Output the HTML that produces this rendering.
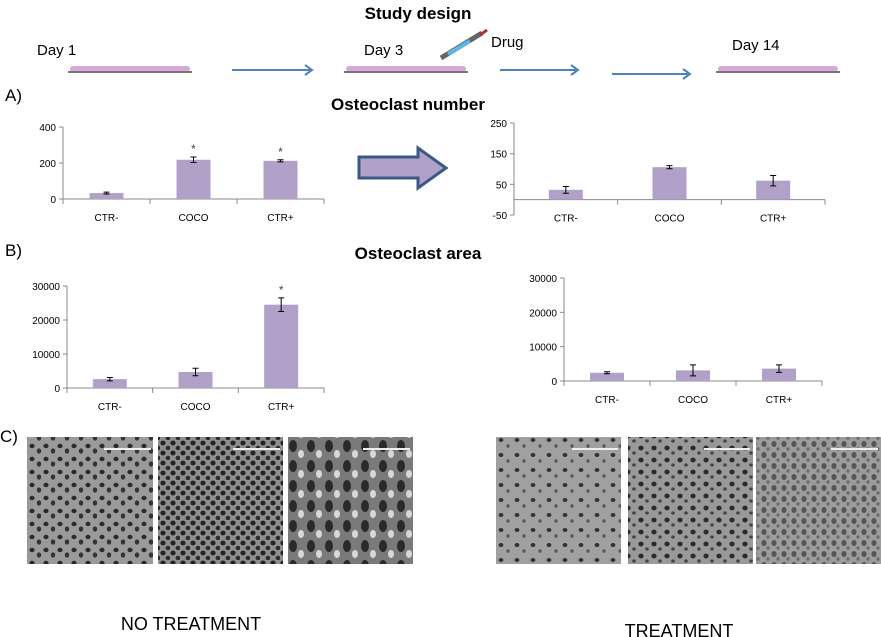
<!DOCTYPE html>
<html><head><meta charset="utf-8"><style>
body{margin:0;background:#fff;width:881px;height:637px;overflow:hidden;font-family:"Liberation Sans",sans-serif}
svg{display:block}
</style></head><body>
<svg id="fig" width="881" height="637" xmlns="http://www.w3.org/2000/svg">
<defs>
<pattern id="cells1" width="14" height="13" patternUnits="userSpaceOnUse"><rect width="14" height="13" fill="#9a9a9a"/><ellipse cx="4" cy="4" rx="2.6" ry="2.2" fill="#2a2a2a"/><ellipse cx="11" cy="9" rx="2.2" ry="2.6" fill="#333"/></pattern>
<pattern id="cells2" width="10" height="10" patternUnits="userSpaceOnUse"><rect width="10" height="10" fill="#8e8e8e"/><ellipse cx="3" cy="3" rx="2.6" ry="2.4" fill="#222"/><ellipse cx="8" cy="8" rx="2.4" ry="2.2" fill="#2a2a2a"/></pattern>
<pattern id="cells3" width="18" height="20" patternUnits="userSpaceOnUse"><rect width="18" height="20" fill="#7a7a7a"/><ellipse cx="5" cy="6" rx="4" ry="6" fill="#2a2a2a"/><ellipse cx="13" cy="14" rx="3" ry="4" fill="#d8d8d8"/></pattern>
<pattern id="cells4" width="16" height="15" patternUnits="userSpaceOnUse"><rect width="16" height="15" fill="#a0a0a0"/><ellipse cx="5" cy="5" rx="2.4" ry="2" fill="#333"/><ellipse cx="12" cy="11" rx="1.6" ry="1.8" fill="#555"/></pattern>
<pattern id="cells5" width="13" height="12" patternUnits="userSpaceOnUse"><rect width="13" height="12" fill="#999"/><ellipse cx="4" cy="4" rx="2.6" ry="2.4" fill="#2a2a2a"/><ellipse cx="10" cy="9" rx="1.8" ry="1.6" fill="#444"/></pattern>
<pattern id="cells6" width="10" height="11" patternUnits="userSpaceOnUse"><rect width="10" height="11" fill="#9c9c9c"/><ellipse cx="4" cy="4" rx="2.6" ry="3" fill="#555"/><ellipse cx="8" cy="9" rx="1.6" ry="1.8" fill="#6a6a6a"/></pattern>
</defs>
<text x="418" y="19" text-anchor="middle" font-size="17" font-weight="bold">Study design</text>
<g font-size="15">
<text x="37" y="55">Day 1</text>
<text x="364" y="55">Day 3</text>
<text x="491" y="47">Drug</text>
<text x="732" y="50">Day 14</text>
<g><rect x="70" y="66" width="120" height="6" rx="3" fill="#d9a8d8"/><rect x="68" y="71" width="124" height="2" fill="#777"/></g>
<g><rect x="346" y="66" width="120" height="6" rx="3" fill="#d9a8d8"/><rect x="344" y="71" width="124" height="2" fill="#777"/></g>
<g><rect x="718" y="66" width="120" height="6" rx="3" fill="#d9a8d8"/><rect x="716" y="71" width="124" height="2" fill="#777"/></g>
<g><line x1="441" y1="58" x2="482" y2="33" stroke="#666" stroke-width="5"/><line x1="448" y1="54" x2="470" y2="41" stroke="#5bb8e0" stroke-width="4"/><line x1="480" y1="35" x2="487" y2="30" stroke="#a33" stroke-width="3"/></g>
<g stroke="#4f81bd" stroke-width="2" fill="none">
<path d="M232 70H312M305 65l7 5-7 5"/>
<path d="M500 70H578M571 65l7 5-7 5"/>
<path d="M612 74H690M683 69l7 5-7 5"/>
</g>
</g>
<text x="5" y="101" font-size="17">A)</text>
<text x="408" y="110" text-anchor="middle" font-size="17" font-weight="bold">Osteoclast number</text>
<path d="M359 157H418V148L446 168L418 188V178H359Z" fill="#b1a0c7" stroke="#3a5a85" stroke-width="3"/>
<text x="5" y="256" font-size="17">B)</text>
<text x="418" y="259" text-anchor="middle" font-size="17" font-weight="bold">Osteoclast  area</text>
<text x="0" y="442" font-size="17">C)</text>
<g id="charts"></g>
<g>
<rect x="27" y="437" width="126" height="127" fill="url(#cells1)"/>
<rect x="158" y="437" width="125" height="127" fill="url(#cells2)"/>
<rect x="288" y="437" width="125" height="127" fill="url(#cells3)"/>
<rect x="496" y="437" width="125" height="127" fill="url(#cells4)"/>
<rect x="628" y="437" width="125" height="127" fill="url(#cells5)"/>
<rect x="756" y="437" width="125" height="127" fill="url(#cells6)"/>
<g stroke="#eee" stroke-width="2"><line x1="104" y1="449" x2="151" y2="449"/><line x1="233" y1="449" x2="280" y2="449"/><line x1="363" y1="449" x2="410" y2="449"/><line x1="572" y1="449" x2="618" y2="449"/><line x1="704" y1="449" x2="750" y2="449"/><line x1="831" y1="449" x2="878" y2="449"/></g>
</g>
<text x="191" y="630" text-anchor="middle" font-size="18">NO TREATMENT</text>
<text x="679" y="637" text-anchor="middle" font-size="18">TREATMENT</text>
</svg>
<script>
const categories = ["CTR-","COCO","CTR+"];
const numUntreated = [33, 218, 212];
const numUntreatedErr = [5, 15, 6];
const numUntreatedStar = [false, true, true];
const numTreated = [32, 106, 62];
const numTreatedErr = [11, 5, 17];
const areaUntreated = [2600, 4700, 24500];
const areaUntreatedErr = [500, 1100, 2000];
const areaUntreatedStar = [false, false, true];
const areaTreated = [2400, 3100, 3600];
const areaTreatedErr = [300, 1600, 1100];
const ticksNumUntreated = [0, 200, 400];
const ticksNumTreated = [-50, 50, 150, 250];
const ticksArea = [0, 10000, 20000, 30000];

const NS = "http://www.w3.org/2000/svg";
const root = document.getElementById("charts");
function mk(tag, attrs, parent){const e=document.createElementNS(NS,tag);for(const k in attrs)e.setAttribute(k,attrs[k]);parent.appendChild(e);return e;}

function chart(name, x0, x1, yZero, vmin, vmax, yTop, yBot, vals, errs, stars, ticks){
  const g = mk("g", {}, root);
  
  
  const y = v => yBot - (v - vmin) / (vmax - vmin) * (yBot - yTop);
  const bw = (x1 - x0) / categories.length;
  const axY = y(0);
  mk("line",{x1:x0,y1:yTop,x2:x0,y2:yBot,stroke:"#888"},g);
  mk("line",{x1:x0,y1:axY,x2:x1,y2:axY,stroke:"#888"},g);
  ticks.forEach(t=>{
    mk("line",{x1:x0-4,y1:y(t),x2:x0,y2:y(t),stroke:"#888"},g);
    const tl = mk("text",{x:x0-7,y:y(t)+4,"text-anchor":"end","font-size":"10"},g);
    tl.textContent = t;
    
    
  });
  for(let i=0;i<=categories.length;i++) mk("line",{x1:x0+i*bw,y1:axY,x2:x0+i*bw,y2:axY+5,stroke:"#888"},g);
  categories.forEach((c,i)=>{
    const cx = x0 + (i+0.5)*bw;
    const bar = mk("rect",{x:cx-17,y:Math.min(y(vals[i]),axY),width:34,height:Math.abs(axY-y(vals[i])),fill:"#b1a0c7"},g);
    
    
    const hi = y(vals[i]+errs[i]), lo = y(vals[i]-errs[i]);
    const eb = mk("path",{d:`M${cx} ${hi}V${lo}M${cx-3} ${hi}H${cx+3}M${cx-3} ${lo}H${cx+3}`,stroke:"#000",fill:"none"},g);
    
    
    if(stars && stars[i]){
      const s = mk("text",{x:cx,y:hi-4,"text-anchor":"middle","font-size":"12",fill:"#444"},g);
      s.textContent = "*";
      
      
    }
    const xl = mk("text",{x:cx,y:axY+22,"text-anchor":"middle","font-size":"10"},g);
    xl.textContent = c;
    
    
  });
}
chart("chart-number-untreated", 63, 324, 0, 0, 400, 127, 199, numUntreated, numUntreatedErr, numUntreatedStar, ticksNumUntreated);
chart("chart-number-treated", 514, 825, 0, -50, 250, 123, 215, numTreated, numTreatedErr, null, ticksNumTreated);
chart("chart-area-untreated", 67, 324, 0, 0, 30000, 286, 388, areaUntreated, areaUntreatedErr, areaUntreatedStar, ticksArea);
chart("chart-area-treated", 564, 822, 0, 0, 30000, 278, 381, areaTreated, areaTreatedErr, null, ticksArea);
</script>
</body></html>
